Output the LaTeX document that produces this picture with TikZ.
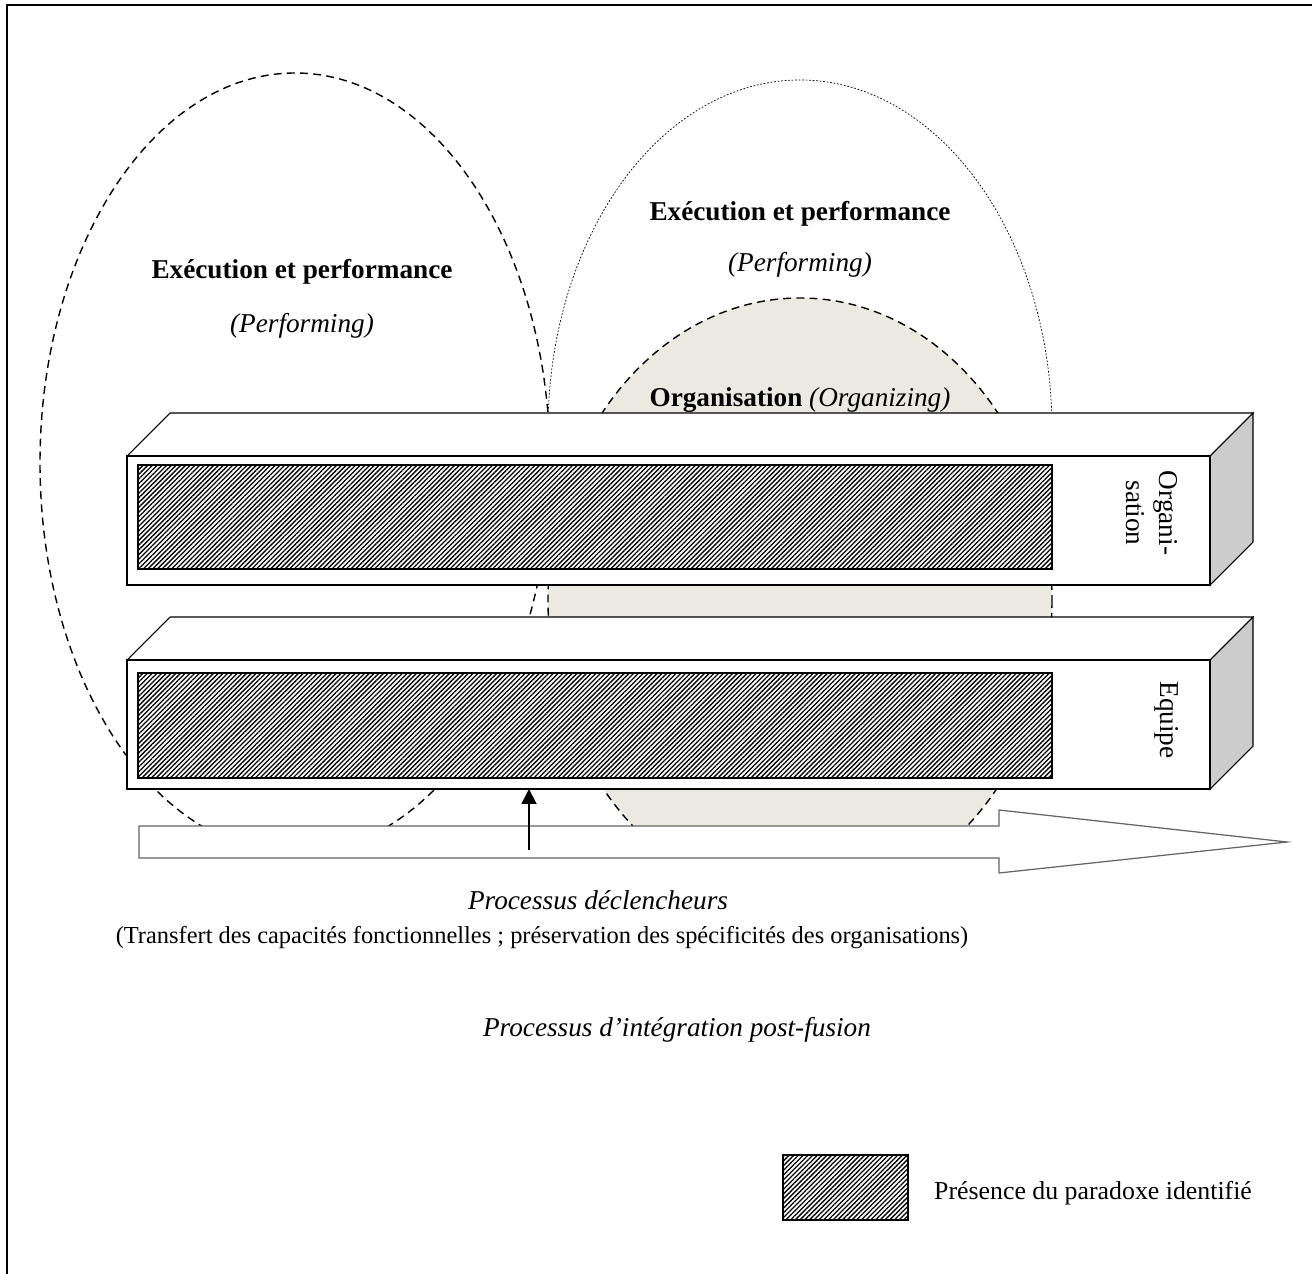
\documentclass[tikz,border=0pt]{standalone}
\usepackage{fontspec}
\setmainfont{Liberation Serif}
\usetikzlibrary{patterns.meta,arrows.meta}
\definecolor{beige}{RGB}{236,234,224}
\definecolor{sidegray}{RGB}{204,204,204}
\definecolor{arrowgray}{RGB}{100,100,100}

\begin{document}
\begin{tikzpicture}[x=0.02cm, y=-0.02cm,
      phase/.style ={line width=0.8pt, dash pattern=on 4.5pt off 3pt},
      outer/.style ={line width=0.4pt, dash pattern=on 1pt off 1pt},
      hatch/.style ={draw, line width=1.2pt, pattern={Lines[angle=45,distance=1.9pt,line width=0.75pt]}},
      bar/.style ={draw, line width=0.6pt, fill=white},
      side/.style ={draw, line width=0.6pt, fill=sidegray},
      title/.style ={font=\fontsize{15.5}{18}\selectfont\bfseries},
      sub/.style ={font=\fontsize{15.5}{18}\selectfont\itshape},
      note/.style ={font=\fontsize{13.9}{16}\selectfont},
      level/.style ={font=\fontsize{15.5}{19}\selectfont, rotate=-90, align=center}]

   \useasboundingbox (0,0) rectangle (1312,1274);
   \draw[line width=1.2pt] (7,1274) -- (7,5) -- (1312,5);

   % the three phases
   \begin{scope}
   \clip (0,0) rectangle (1312,826);
   \draw[outer] (800,430) ellipse [x radius=252, y radius=350];
   \draw[phase, fill=beige] (800,600) ellipse [x radius=252, y radius=302];
   \draw[phase] (295,463) ellipse [x radius=255, y radius=390];
   \end{scope}

   \node[title] (execA) at (302,272) {Exécution et performance};
   \node[sub]   (perfA) at (302,326) {(Performing)};
   \node[title] (execB) at (800,214) {Exécution et performance};
   \node[sub]   (perfB) at (800,265) {(Performing)};
   \node[title] (orga)  at (800,400) {Organisation {\mdseries\itshape (Organizing)}};

   % organisation bar
   \draw[bar] (127,456) -- (170,413) -- (1253,413) -- (1210,456) -- cycle;
   \draw[side] (1210,456) -- (1253,413) -- (1253,542) -- (1210,585) -- cycle;
   \draw[bar] (127,456) rectangle (1210,585);
   \draw[hatch] (138,465) rectangle (1052,569);
   \node[level] (orgLabel) at (1152,513) {Organi-\\sation};

   % equipe bar
   \draw[bar] (127,660) -- (170,617) -- (1253,617) -- (1210,660) -- cycle;
   \draw[side] (1210,660) -- (1253,617) -- (1253,746) -- (1210,789) -- cycle;
   \draw[bar] (127,660) rectangle (1210,789);
   \draw[hatch] (138,673) rectangle (1052,778);
   \node[level] (eqLabel) at (1167,720) {Equipe};
   \coordinate (eqBase) at (127,789);

   % post-merger process
   \draw[line width=0.7pt, draw=arrowgray, fill=white] (139,826) -- (999,826) -- (999,810)
      -- (1287,842) -- (999,873) -- (999,858) -- (139,858) -- cycle;
   \coordinate (trig) at (529,850);
   \draw[line width=1.1pt, -{Triangle[length=8.5pt,width=8.5pt]}] (trig) -- (trig |- eqBase);

   \node[sub]  (trigger)  at (598,900) {Processus déclencheurs};
   \node[note] (transfer) at (542,938) {(Transfert des capacités fonctionnelles ; préservation des spécificités des organisations)};
   \node[sub]  (process)  at (677,1030) {Processus d’intégration post-fusion};

   % legend
   \draw[hatch] (783,1155) rectangle (908,1220);
   \node[note, anchor=west, font=\fontsize{14.7}{17}\selectfont] (legend) at (928,1193) {Présence du paradoxe identifié};

 \end{tikzpicture}
\end{document}
